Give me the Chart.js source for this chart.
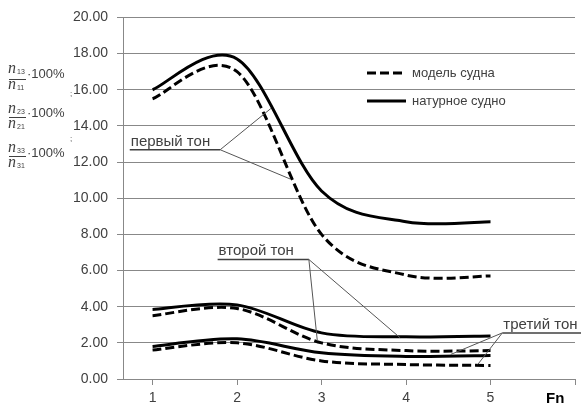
<!DOCTYPE html>
<html lang="ru">
<head>
<meta charset="UTF-8">
<title>Тоны колебаний</title>
<script src="https://cdn.jsdelivr.net/npm/chart.js"></script>
<style>
  html, body { margin: 0; padding: 0; background: #fff; }
  #wrap { width: 581px; height: 409px; }
</style>
</head>
<body>
<div id="wrap"><canvas id="toneChart" width="581" height="409"></canvas></div>
<script>
  // values, Fn = 1..5
  const fn = [1, 2, 3, 4, 5];
  const model1 = [15.5, 17.0, 8.0, 5.75, 5.7];
  const full1  = [16.0, 17.7, 10.4, 8.7, 8.7];
  const model2 = [3.5, 3.9, 2.0, 1.57, 1.57];
  const full2  = [3.85, 4.1, 2.55, 2.33, 2.38];
  const model3 = [1.6, 2.0, 1.0, 0.8, 0.75];
  const full3  = [1.8, 2.22, 1.45, 1.25, 1.3];

  const xTicks = [1, 2, 3, 4, 5];
  const legendNames = ['модель судна', 'натурное судно'];
  const toneNames = ['первый тон', 'второй тон', 'третий тон'];
  const xTitle = 'Fn';

  const TEXT = '#404040';
  const GRID = '#888888';
  const DASH = [9, 4];

  function pts(arr) {
    return fn.map((x, i) => ({ x: x, y: arr[i] }));
  }
  function series(arr, dashed) {
    return {
      data: pts(arr),
      borderColor: '#000',
      borderWidth: 3,
      borderDash: dashed ? DASH : [],
      borderCapStyle: 'butt',
      pointRadius: 0,
      fill: false,
      tension: 0.4
    };
  }

  // office-style smoothing: control points at +-(next - prev)/6
  const smooth = {
    id: 'smooth',
    beforeDatasetDraw(chart, args) {
      const meta = args.meta;
      if (!meta.dataset) return;
      meta.dataset.updateControlPoints(chart.chartArea, 'x');
      const p = meta.data;
      p.forEach((pt, i) => {
        const prev = p[i - 1] || pt;
        const next = p[i + 1] || pt;
        const dx = (next.x - prev.x) / 6;
        const dy = (next.y - prev.y) / 6;
        pt.cp1x = pt.x - dx; pt.cp1y = pt.y - dy;
        pt.cp2x = pt.x + dx; pt.cp2y = pt.y + dy;
      });
      meta.dataset._path = undefined;
    }
  };

  // leader lines: label, hub point and curve end points in data units
  const leaders = [
    { text: toneNames[0], from: [0.73, 12.68], hub: [1.80, 12.68], ends: [[2.40, 14.96], [2.63, 11.06]] },
    { text: toneNames[1], from: [1.77, 6.61], hub: [2.85, 6.61], ends: [[2.95, 2.11], [3.93, 2.28]] },
    { text: toneNames[2], from: [5.14, 2.55], to: [6.08, 2.55], hub: [5.14, 2.55], ends: [[4.53, 1.36], [4.85, 0.81]] }
  ];

  const overlay = {
    id: 'overlay',
    afterDraw(chart) {
      const ctx = chart.ctx;
      const xs = chart.scales.x, ys = chart.scales.y;
      const px = p => [xs.getPixelForValue(p[0]), ys.getPixelForValue(p[1])];
      ctx.save();

      // tone labels with leader lines
      leaders.forEach(l => {
        const a = px(l.from);
        const b = px(l.to || l.hub);
        const h = px(l.hub);
        ctx.strokeStyle = '#404040';
        ctx.lineWidth = 1.5;
        ctx.beginPath();
        ctx.moveTo(a[0], a[1]);
        ctx.lineTo(b[0], b[1]);
        ctx.stroke();
        ctx.strokeStyle = '#555';
        ctx.lineWidth = 1;
        l.ends.forEach(e => {
          const q = px(e);
          ctx.beginPath();
          ctx.moveTo(h[0], h[1]);
          ctx.lineTo(q[0], q[1]);
          ctx.stroke();
        });
        ctx.fillStyle = TEXT;
        ctx.font = '15px "Liberation Sans"';
        ctx.textAlign = 'left';
        ctx.textBaseline = 'alphabetic';
        ctx.fillText(l.text, a[0] + 1, a[1] - 4);
      });

      // legend
      ctx.strokeStyle = '#000';
      ctx.lineWidth = 3;
      ctx.setLineDash(DASH);
      ctx.beginPath();
      ctx.moveTo(367, 73);
      ctx.lineTo(406, 73);
      ctx.stroke();
      ctx.setLineDash([]);
      ctx.beginPath();
      ctx.moveTo(367, 101);
      ctx.lineTo(406, 101);
      ctx.stroke();
      ctx.fillStyle = TEXT;
      ctx.font = '13px "Liberation Sans"';
      ctx.textBaseline = 'middle';
      ctx.fillText(legendNames[0], 412, 73);
      ctx.fillText(legendNames[1], 412, 101);

      // axis title Fn
      ctx.font = 'bold 15px "Liberation Sans"';
      ctx.fillStyle = '#000';
      ctx.fillText(xTitle, 546, 399);

      // y axis title: stacked ratios
      const fr = [
        { n: '13', d: '11', num: 73, bar: 79, den: 89, pct: 74 },
        { n: '23', d: '21', num: 113, bar: 117, den: 128, pct: 113 },
        { n: '33', d: '31', num: 152, bar: 156, den: 167, pct: 153 }
      ];
      fr.forEach(f => {
        ctx.fillStyle = TEXT;
        ctx.textBaseline = 'alphabetic';
        ctx.font = 'italic 16px "Liberation Serif"';
        ctx.fillText('n', 8, f.num);
        ctx.fillText('n', 8, f.den);
        ctx.font = '7px "Liberation Sans"';
        ctx.fillText(f.n, 17, f.num + 1);
        ctx.fillText(f.d, 17, f.den + 1);
        ctx.strokeStyle = TEXT;
        ctx.lineWidth = 1;
        ctx.beginPath();
        ctx.moveTo(9, f.bar + 0.5);
        ctx.lineTo(26, f.bar + 0.5);
        ctx.stroke();
        ctx.font = '13px "Liberation Sans"';
        ctx.textBaseline = 'middle';
        ctx.fillText('\u00b7100%', 27, f.pct);
      });
      ctx.font = '8px "Liberation Sans"';
      ctx.textBaseline = 'middle';
      ctx.fillText(';', 70, 94);
      ctx.fillText(';', 70, 139);

      ctx.restore();
    }
  };

  new Chart(document.getElementById('toneChart').getContext('2d'), {
    type: 'line',
    data: {
      datasets: [
        series(model1, true), series(full1, false),
        series(model2, true), series(full2, false),
        series(model3, true), series(full3, false)
      ]
    },
    options: {
      responsive: false,
      animation: false,
      devicePixelRatio: 1,
      layout: { padding: { top: 10, right: 6, left: 0, bottom: 0 } },
      plugins: { legend: { display: false }, tooltip: { enabled: false } },
      scales: {
        x: {
          type: 'linear',
          min: 0.65,
          max: 6,
          afterBuildTicks: s => { s.ticks = xTicks.concat([6]).map(v => ({ value: v })); },
          afterFit: s => { s.height = 30; },
          ticks: {
            color: TEXT,
            font: { family: 'Liberation Sans', size: 14 },
            padding: 5,
            maxRotation: 0,
            callback: v => (xTicks.includes(v) ? String(v) : '')
          },
          grid: { drawOnChartArea: false, drawTicks: true, tickLength: 6, color: GRID },
          border: { display: true, color: GRID }
        },
        y: {
          min: 0,
          max: 20,
          afterFit: s => { s.width = 123; },
          ticks: {
            stepSize: 2,
            color: TEXT,
            font: { family: 'Liberation Sans', size: 14 },
            padding: 9,
            callback: v => v.toFixed(2)
          },
          grid: { color: GRID, tickLength: 6 },
          border: { display: true, color: GRID }
        }
      }
    },
    plugins: [smooth, overlay]
  });
</script>
</body>
</html>
